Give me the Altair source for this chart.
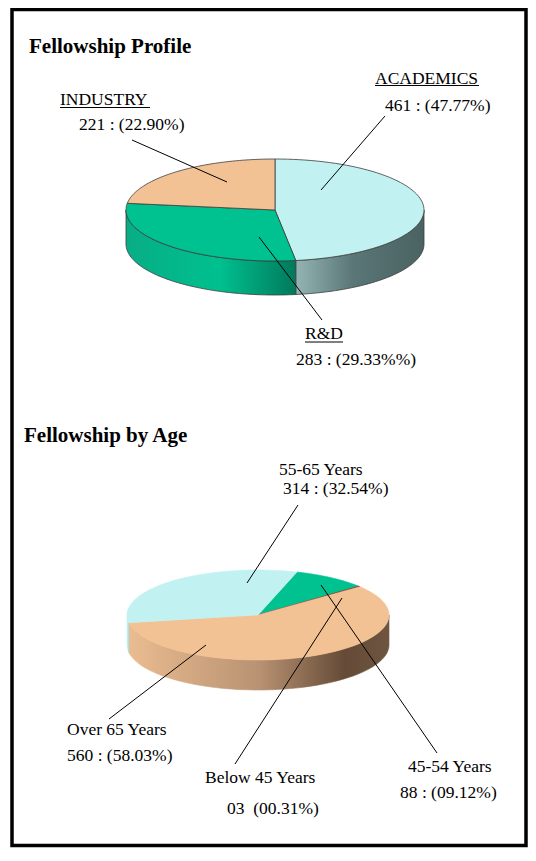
import altair as alt
import pandas as pd

# ---------------- data ----------------
profile_labels = ["ACADEMICS", "R&D", "INDUSTRY"]
profile_values = [461, 283, 221]
profile_colors = ["#c2f1f1", "#00c290", "#f2c294"]

age_labels = ["45-54 Years", "Below 45 Years", "Over 65 Years", "55-65 Years"]
age_values = [88, 3, 560, 314]
age_colors = ["#00c290", "#a8322a", "#f2c294", "#c2f1f1"]

profile_title = "Fellowship Profile"
age_title = "Fellowship by Age"

profile_names = ["ACADEMICS", "INDUSTRY", "R&D"]
profile_value_text = ["461 : (47.77%)", "221 : (22.90%)", "283 : (29.33%%)"]
age_names = ["55-65 Years", "Over 65 Years", "Below 45 Years", "45-54 Years"]
age_value_text = ["314 : (32.54%)", "560 : (58.03%)", "03\u00a0\u00a0(00.31%)", "88 : (09.12%)"]

# side-wall shading (left -> right) per slice
profile_wall_stops = {
    "ACADEMICS": [(0, "#94b4b4"), (0.45, "#5a7676"), (1, "#4a6262")],
    "R&D": [(0, "#08ad86"), (0.55, "#00c08f"), (1, "#007a5c")],
    "INDUSTRY": [(0, "#e0b080"), (1, "#8a6a4a")],
}
age_wall_stops = {
    "45-54 Years": [(0, "#00b08a"), (1, "#007a5c")],
    "Below 45 Years": [(0, "#a8322a"), (1, "#6a1a16")],
    "Over 65 Years": [(0, "#eabc90"), (0.5, "#b89272"), (0.83, "#654b37"), (1, "#6e5540")],
    "55-65 Years": [(0, "#c8f4f4"), (1, "#a8d8d8")],
}

# ---------------- layout (page pixels) ----------------
X0, X1 = 12, 526
Y0, Y1 = 9.5, 845.5
TOP_PIE = dict(cx=275, cy=210, rx=149, ry=51, depth=34, start=270, stroke="#3c3c3c", sw=0.8)
AGE_PIE = dict(cx=258, cy=615, rx=131, ry=45, depth=30, start=287.3, stroke=None, sw=0.6)

title_pos = [(29, 53), (24, 441.5)]
profile_name_pos = [(375, 83.5), (60, 105), (305, 339)]
profile_value_pos = [(385, 110.5), (79, 130), (296, 365)]
age_name_pos = [(279, 474.5), (67, 735), (205, 782.5), (408, 771.5)]
age_value_pos = [(283, 494), (67, 761), (227, 814), (400, 798)]
leaders = [
    ((385, 116), (321, 190)),
    ((132, 140), (227, 182)),
    ((322, 320), (259, 237)),
    ((298, 505), (247, 583)),
    ((109, 719), (206, 645)),
    ((235, 764), (342, 598)),
    ((437, 753), (321, 585)),
]
underlines = [((375, 479), 85.5), ((60, 150), 107.5), ((305, 343), 342)]

FONT = "Liberation Serif"
LABEL_SIZE = 17.5


def X(f):
    return alt.X(f, type="quantitative",
                 scale=alt.Scale(domain=[X0, X1], nice=False, zero=False), axis=None)


def Y(f):
    return alt.Y(f, type="quantitative",
                 scale=alt.Scale(domain=[Y0, Y1], nice=False, zero=False, reverse=True), axis=None)


def gradient(stops):
    return alt.LinearGradient(
        gradient="linear", x1=0, x2=1, y1=0, y2=0,
        stops=[alt.GradientStop(offset=o, color=c) for o, c in stops])


def pie_layers(labels, values, colors, wall_stops, g, N=72):
    df = pd.DataFrame({"label": labels, "value": values, "order": list(range(len(labels)))})
    base = (
        alt.Chart(df)
        .transform_joinaggregate(total="sum(value)")
        .transform_window(cum="sum(value)", sort=[alt.SortField("order")], frame=[None, 0])
        .transform_calculate(a0=f"{g['start']} + 360 * (datum.cum - datum.value) / datum.total")
        .transform_calculate(a1=f"{g['start']} + 360 * datum.cum / datum.total")
    )
    cx, cy, rx, ry, dep = g["cx"], g["cy"], g["rx"], g["ry"], g["depth"]
    walls, faces = [], []
    for lab, col in zip(labels, colors):
        grad = gradient(wall_stops[lab])
        for off in (0, 360):
            w = (
                base.transform_filter(alt.datum.label == lab)
                .transform_calculate(lo=f"max(datum.a0, {off})")
                .transform_calculate(hi=f"min(datum.a1, {off + 180})")
                .transform_filter("datum.hi > datum.lo")
                .transform_calculate(k=f"sequence(0, {2 * N + 2})")
                .transform_flatten(["k"])
                .transform_calculate(t=f"datum.k <= {N} ? datum.k / {N} : ({2 * N + 1} - datum.k) / {N}")
                .transform_calculate(dz=f"datum.k <= {N} ? 0 : {dep}")
                .transform_calculate(ang="(datum.lo + datum.t * (datum.hi - datum.lo)) * PI / 180")
                .transform_calculate(px=f"{cx} + {rx} * cos(datum.ang)")
                .transform_calculate(py=f"{cy} + {ry} * sin(datum.ang) + datum.dz")
                .mark_line(interpolate="linear-closed", fill=grad,
                           stroke=g["stroke"] if g["stroke"] else grad, strokeWidth=g["sw"])
                .encode(x=X("px"), y=Y("py"), order=alt.Order("k:Q"))
            )
            walls.append(w)
        f = (
            base.transform_filter(alt.datum.label == lab)
            .transform_calculate(k=f"sequence(0, {N + 3})")
            .transform_flatten(["k"])
            .transform_calculate(t=f"clamp((datum.k - 1) / {N}, 0, 1)")
            .transform_calculate(r=f"(datum.k == 0 || datum.k == {N + 2}) ? 0 : 1")
            .transform_calculate(ang="(datum.a0 + datum.t * (datum.a1 - datum.a0)) * PI / 180")
            .transform_calculate(px=f"{cx} + datum.r * {rx} * cos(datum.ang)")
            .transform_calculate(py=f"{cy} + datum.r * {ry} * sin(datum.ang)")
            .mark_line(interpolate="linear-closed", fill=col,
                       stroke=g["stroke"] if g["stroke"] else col, strokeWidth=g["sw"])
            .encode(x=X("px"), y=Y("py"), order=alt.Order("k:Q"))
        )
        faces.append(f)
    return walls + faces


layers = []
layers += pie_layers(profile_labels, profile_values, profile_colors, profile_wall_stops, TOP_PIE)
layers += pie_layers(age_labels, age_values, age_colors, age_wall_stops, AGE_PIE)

# leader lines
lead_df = pd.DataFrame({
    "x": [a[0] for a, b in leaders], "y": [a[1] for a, b in leaders],
    "x2": [b[0] for a, b in leaders], "y2": [b[1] for a, b in leaders],
})
layers.append(
    alt.Chart(lead_df).mark_rule(color="black", strokeWidth=1)
    .encode(x=X("x"), y=Y("y"), x2="x2:Q", y2="y2:Q")
)

# underlines
ul_df = pd.DataFrame({
    "x": [u[0][0] for u in underlines], "x2": [u[0][1] for u in underlines],
    "y": [u[1] for u in underlines],
})
layers.append(
    alt.Chart(ul_df).mark_rule(color="black", strokeWidth=1)
    .encode(x=X("x"), x2="x2:Q", y=Y("y"))
)

# label texts
texts = profile_names + profile_value_text + age_names + age_value_text
pos = profile_name_pos + profile_value_pos + age_name_pos + age_value_pos
txt_df = pd.DataFrame({"text": texts, "x": [p[0] for p in pos], "y": [p[1] for p in pos]})
layers.append(
    alt.Chart(txt_df).mark_text(align="left", baseline="alphabetic", font=FONT,
                                fontSize=LABEL_SIZE, color="black")
    .encode(x=X("x"), y=Y("y"), text="text:N")
)

# titles
ttl_df = pd.DataFrame({"text": [profile_title, age_title],
                       "x": [p[0] for p in title_pos], "y": [p[1] for p in title_pos]})
layers.append(
    alt.Chart(ttl_df).mark_text(align="left", baseline="alphabetic", font=FONT,
                                fontSize=21, fontWeight="bold", color="black")
    .encode(x=X("x"), y=Y("y"), text="text:N")
)

chart = (
    alt.layer(*layers)
    .properties(width=X1 - X0, height=Y1 - Y0,
                padding={"left": 4, "top": 1.5, "right": 2, "bottom": 2},
                autosize=alt.AutoSizeParams(type="none"))
    .configure_view(stroke="black", strokeWidth=3.5)
)

chart.save("out.html", embed_options={"renderer": "svg", "actions": False})
